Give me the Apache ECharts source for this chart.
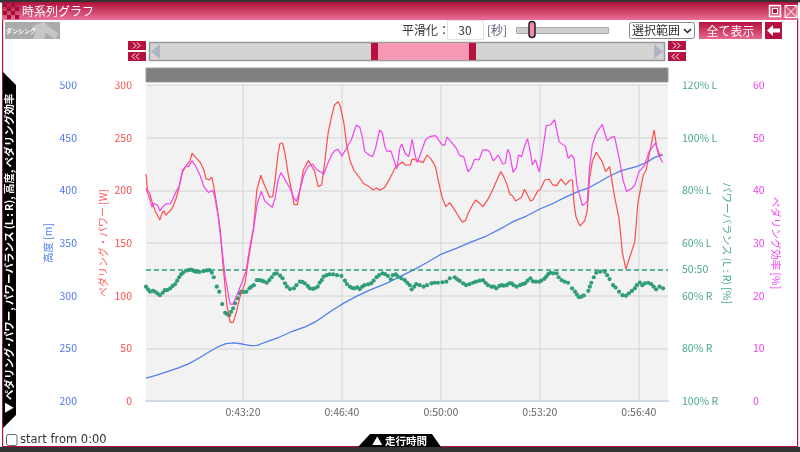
<!DOCTYPE html>
<html><head><meta charset="utf-8">
<style>html,body{margin:0;padding:0;background:#fff}#c{width:800px;height:452px}</style>
<script src="https://cdn.jsdelivr.net/npm/echarts@6/dist/echarts.min.js"></script>
</head><body><div id="c"></div>
<script>
const xTicks=[2600,2800,3000,3200,3400];
const balanceTicks=[0,20,40,50,60,80,100,120];
const powerTime=[2404,2407,2412,2416,2420,2423,2427,2432,2436,2440,2444,2453,2458,2465,2471,2478,2485,2493,2497,2500,2506,2514,2521,2525,2531,2537,2541,2547,2554,2560,2567,2574,2580,2587,2594,2604,2611,2621,2628,2636,2642,2649,2654,2660,2665,2671,2675,2680,2685,2691,2698,2703,2710,2715,2722,2732,2739,2745,2752,2759,2765,2772,2779,2785,2792,2797,2804,2810,2817,2824,2835,2843,2853,2863,2870,2876,2886,2897,2907,2917,2922,2929,2938,2942,2954,2964,2972,2979,2989,2996,3002,3010,3018,3026,3034,3043,3050,3055,3062,3070,3078,3085,3092,3098,3106,3112,3121,3127,3134,3139,3145,3151,3163,3169,3176,3181,3186,3195,3201,3210,3219,3226,3234,3243,3252,3261,3266,3269,3273,3281,3291,3296,3300,3306,3314,3318,3326,3333,3341,3351,3360,3367,3374,3382,3392,3398,3409,3415,3423,3431,3436,3442,3448];
const powerWatts=[215.5,200.3,196.5,189.3,187.7,179.8,176.6,171.9,177.6,180.7,176.6,180.7,183.9,192.4,203.5,217.8,223.1,228.2,235.2,235.2,230.4,226.3,219.3,211.4,209.8,212.4,203.5,186.1,162.4,127.6,92.7,74.7,74.7,84.8,99.1,111.7,133.9,162.4,200.3,214.3,206.7,198.8,193.4,194,209.8,235.2,244.7,244.7,235.2,216.2,200.3,186.7,186.4,200.3,219.3,228.2,223,217.8,203.5,205.1,225.7,254.2,270,281,284.2,279.5,263.6,241.5,227.3,219.3,212.4,206.7,204.2,200.3,202.2,200,202.6,211.4,220.9,225,226.9,223.8,224.1,229.8,228.2,226.3,233.6,230.4,222.5,206.7,194,184.5,188.3,182.9,176.6,170,171.2,178.2,184.5,190.8,187.7,184.5,189.3,194,201.9,208.3,217.8,213,205.1,196.5,194.6,189.9,193.4,201,194.6,189.9,190.9,198.8,201,209.8,210.5,205.1,204.5,210.8,205.1,209.8,209.8,187.7,175,166.2,171.2,181.4,209.8,227.3,236.1,236.1,227.3,217.8,222.5,194,173.4,140.2,125.3,137,151.3,187.7,214.6,219.3,238.3,257.3,241.5,233.6,233.6];
const effTime=[2404,2411,2416,2420,2427,2432,2439,2446,2453,2459,2465,2471,2478,2485,2490,2497,2503,2513,2521,2530,2539,2543,2550,2557,2564,2574,2580,2589,2597,2606,2614,2622,2629,2637,2644,2651,2659,2665,2671,2677,2685,2695,2703,2708,2715,2723,2732,2741,2749,2759,2763,2770,2779,2785,2792,2800,2809,2819,2829,2836,2841,2846,2855,2862,2868,2876,2882,2886,2891,2899,2906,2911,2917,2921,2928,2935,2942,2947,2952,2958,2969,2977,2989,3003,3008,3012,3021,3031,3038,3046,3055,3061,3068,3077,3085,3092,3098,3106,3116,3119,3125,3130,3135,3139,3146,3153,3157,3163,3170,3175,3180,3185,3191,3199,3205,3213,3221,3230,3239,3252,3257,3264,3269,3275,3286,3296,3300,3306,3314,3326,3336,3345,3351,3361,3368,3375,3385,3392,3400,3412,3421,3434,3439,3448];
const effPercent=[40.4,38.5,36.8,37.5,37.2,36.1,37,37.5,37.4,38.5,39.8,40.7,43.9,44.6,44.5,45.6,44.8,42.9,40.7,39.6,40,38.8,35,29.3,23.6,18.4,18.4,20.4,22.3,24.6,29.3,33.1,37.5,39.8,38,37.4,36.8,38.5,42,43.4,42,40.4,38.5,37.9,40.1,42.9,44.6,45,43.9,43.4,43,44.8,46.7,47.5,47.8,46.5,48,49.6,52.4,52,50.2,47.4,46.7,46.4,48,51.5,50.8,48.6,47.4,47.5,45.5,44.1,48,48.8,47,46.4,49.7,47,45.3,46.7,49.6,50.2,50.4,48.6,48.6,50.1,49.2,48,46.6,46.4,43.5,44.2,45.9,45.8,47.7,47.7,47.4,45.6,46.7,46.8,45,45.1,47.8,47,43.4,44.4,46.7,46.4,48.6,49.8,47.7,44.8,45.8,43.5,47,52.3,52.4,53.4,49.2,48.3,46.1,46.7,46.1,41,37.1,37.9,43.9,48.6,50.8,52.5,49.4,50.1,50.2,45.8,42,39.8,40.3,41,43.5,44.8,47.4,49,47,45.3];
const altTime=[2404,2424,2444,2471,2491,2512,2532,2549,2566,2582,2599,2616,2629,2646,2673,2700,2727,2747,2776,2803,2830,2856,2890,2917,2944,2971,3001,3031,3058,3092,3126,3146,3173,3200,3227,3254,3277,3301,3321,3341,3365,3395,3415,3432,3448];
const altMeters=[221.8,224.4,227.5,231.7,235.5,241.1,246.8,251.3,254.4,255.1,254.1,252.5,252.9,256,260.5,266.2,270.6,275.3,284.8,292.7,299.6,305.3,311.7,318,324.3,331.3,339.5,344.9,350.3,356.6,364.9,370.3,375.6,382.3,387.7,394,398.7,402.9,408.2,413.6,418.7,422.5,426.3,431.3,433.6];
const balTime=[2404,2408,2412,2418,2422,2427,2432,2438,2442,2447,2453,2458,2463,2467,2471,2475,2479,2485,2490,2494,2498,2502,2506,2512,2520,2527,2532,2537,2541,2547,2552,2558,2564,2568,2572,2576,2580,2584,2589,2593,2597,2602,2607,2613,2617,2622,2628,2633,2638,2642,2648,2653,2658,2663,2668,2675,2680,2685,2689,2695,2703,2708,2715,2720,2725,2731,2735,2741,2745,2751,2755,2759,2763,2769,2775,2782,2790,2799,2806,2810,2816,2821,2826,2831,2836,2841,2846,2853,2859,2864,2870,2875,2882,2887,2893,2899,2903,2909,2913,2920,2927,2932,2937,2941,2946,2950,2957,2965,2972,2981,2987,2994,3003,3011,3018,3028,3033,3038,3045,3051,3058,3065,3071,3078,3085,3090,3095,3102,3107,3112,3118,3123,3127,3133,3138,3143,3147,3153,3160,3165,3170,3175,3181,3186,3192,3199,3203,3209,3213,3217,3221,3227,3234,3238,3244,3250,3257,3265,3271,3275,3279,3284,3289,3298,3301,3304,3309,3314,3322,3331,3336,3341,3348,3353,3360,3367,3374,3380,3386,3392,3396,3402,3407,3412,3419,3425,3430,3435,3442,3449];
const balLeft=[43.4,42.4,41.5,41.8,41.5,40.9,40.2,41.1,42.1,42.1,42.8,43.7,44.4,45.7,47,48.1,48.7,49.5,49.7,49.9,49.7,49.2,49.1,49,49.3,49.6,49.7,48.7,47,43.4,41.5,36.8,33.5,33,32.6,33.9,35.2,37.1,39,40.9,41.5,41.4,41.5,42.8,43.4,44,45.9,45.9,45.7,45.4,44.9,45.9,47,48.2,48.5,47.6,46.6,44.7,43.4,42.5,42.8,44,45.3,45.2,44.7,43.7,42.8,42.6,42.8,43.4,44.9,45.9,47.2,47.8,48.1,48.1,47.8,47.5,45.7,44.4,43.4,42.9,42.8,43.2,42.5,43.4,44,44.3,44.7,45.7,47,47.8,48.5,48.2,47.5,46.2,47.8,48.1,47.2,46.6,45.9,44.9,44,42.4,43.4,44.4,44,43.4,44,44.7,44.9,44.9,45.1,45.3,46.6,47,46.2,45.6,44.7,44,44.4,44.9,45.3,45.7,45.9,44.9,44,43.4,43.4,42.8,43.7,44,43.8,44,44.7,44.7,44,43.4,44,44.4,44.7,45.7,46.6,45.4,45.3,45.3,45.7,46.4,47.2,48.2,48.7,48.5,48.5,47,45.9,45.3,44.9,42.8,41.5,40.4,39.4,39.6,40.1,41.8,43.4,44.9,47,48.7,49.1,49.1,47.8,46.3,44,43.1,41.5,40.2,40,40.9,41.8,42.8,44,45,44,44.7,44.9,44.4,43.4,42.4,43.4,42.8];

const zip=(a,b)=>a.map((t,i)=>[t,b[i]]);
const FONT='"Noto Sans CJK JP","Noto Sans",sans-serif';
const LATIN='"DejaVu Sans",sans-serif';
const clock=v=>{const h=Math.floor(v/3600),m=Math.floor(v%3600/60),s=v%60;return h+':'+String(m).padStart(2,'0')+':'+String(s).padStart(2,'0')};
const balFmt=v=>v===50?'50:50':v<50?(100-v)+'% R':v+'% L';
const CR='#b5123f';
const grad=(a,b)=>({type:'linear',x:0,y:0,x2:0,y2:1,colorStops:[{offset:0,color:a},{offset:1,color:b}]});
const rect=(x,y,w,h,fill,extra={})=>({type:'rect',shape:{x,y,width:w,height:h,r:extra.r||0},style:{fill,stroke:extra.stroke,lineWidth:extra.lw||1},z:extra.z||50,silent:true});
const txt=(x,y,t,size,fill,extra={})=>({type:'text',x,y,rotation:extra.rot||0,z:60,silent:true,style:{text:t,fill,font:(extra.w||'normal')+' '+size+'px '+(extra.f||FONT),align:extra.align||'left',verticalAlign:'middle'}});
const poly=(pts,fill,z=50)=>({type:'polygon',shape:{points:pts},style:{fill},z,silent:true});
const chev=(x,y,d)=>({type:'polyline',shape:{points:[[x,y-3],[x+3*d,y],[x,y+3]]},style:{stroke:'#fff',lineWidth:1,fill:null},z:55,silent:true});
const dbl=(cx,y,d)=>[chev(cx-3*d-1,y,d),chev(cx+1*d-1,y,d)];

const yBase={type:'value',splitLine:{show:false},axisLine:{show:false},axisTick:{show:false},nameLocation:'middle',nameMoveOverlap:false};
const chart=echarts.init(document.getElementById('c'),null,{renderer:'canvas'});
const checks=[];
for(let i=0;i<4;i++)for(let j=0;j<4;j++)if((i+j)%2==0)checks.push(rect(3+i*4,3+j*4,4,4,'#a00f35',{z:52}));
chart.setOption({
 animation:false,backgroundColor:'#fff',
 grid:{left:146,right:132,top:85,bottom:51,show:true,backgroundColor:'#f2f2f2',borderWidth:0},
 xAxis:{type:'value',min:2404,max:3459,
  axisLine:{show:true,lineStyle:{color:'#cfd8e3',width:2}},
  axisTick:{show:false,customValues:xTicks},
  axisLabel:{customValues:xTicks,formatter:clock,color:'#666',fontSize:10.5,fontFamily:FONT,margin:6},
  splitLine:{show:true,lineStyle:{color:'#dddddd',width:1.5}}},
 yAxis:[
  Object.assign({},yBase,{min:0,max:300,interval:50,position:'left',name:'ペダリング・パワー [W]',nameGap:38,nameRotate:90,nameTextStyle:{color:'#ff5a5a',fontSize:10,fontFamily:FONT},
   axisLabel:{color:'#ff4d4d',fontSize:10.5,fontFamily:FONT,margin:14},splitLine:{show:true,lineStyle:{color:'#dddddd',width:1.5}}}),
  Object.assign({},yBase,{min:200,max:500,interval:50,position:'left',offset:55,name:'高度 [m]',nameGap:38,nameRotate:90,nameTextStyle:{color:'#4f7ff0',fontSize:10.5,fontFamily:FONT},
   axisLabel:{color:'#4f78ee',fontSize:10.5,fontFamily:FONT,margin:14}}),
  Object.assign({},yBase,{min:0,max:120,position:'right',name:'パワーバランス (L : R) [%]',nameGap:54,nameRotate:-90,nameTextStyle:{color:'#4aa890',fontSize:10.5,fontFamily:FONT},
   axisTick:{show:false,customValues:balanceTicks},
   axisLabel:{customValues:balanceTicks,formatter:balFmt,color:'#4aa890',fontSize:10.5,fontFamily:FONT,margin:14}}),
  Object.assign({},yBase,{min:0,max:60,interval:10,position:'right',offset:71,name:'ペダリング効率 [%]',nameGap:32,nameRotate:-90,nameTextStyle:{color:'#ee44ee',fontSize:10.5,fontFamily:FONT},
   axisLabel:{color:'#f040f0',fontSize:10.5,fontFamily:FONT,margin:14}})
 ],
 series:[
  {name:'altitude',type:'line',yAxisIndex:1,data:zip(altTime,altMeters),showSymbol:false,lineStyle:{color:'#4f80ee',width:1.3},z:3},
  {name:'balance',type:'scatter',yAxisIndex:2,data:zip(balTime,balLeft),symbolSize:4.2,itemStyle:{color:'#2f9d7a',opacity:1},z:4,
   markLine:{silent:true,symbol:'none',label:{show:false},lineStyle:{color:'#2a9d78',type:[5,3],width:1.6},data:[{yAxis:50}]}},
  {name:'power',type:'line',yAxisIndex:0,data:zip(powerTime,powerWatts),showSymbol:false,lineStyle:{color:'#ff4d4d',width:1.2},z:5},
  {name:'efficiency',type:'line',yAxisIndex:3,data:zip(effTime,effPercent),showSymbol:false,lineStyle:{color:'#ee44ee',width:1.2},z:6}
 ],
 graphic:[
  rect(20,62,126,19.5,'#fff',{z:40}),rect(668,62,126,19.5,'#fff',{z:40}),
  rect(0,0,800,2.5,'#333'),
  rect(2,2,796,18,grad('#b0103a','#ea7096')),
  ...checks,
  rect(2,20,1.2,428,CR),rect(797,20,1.2,428,CR),rect(2,446,796,1.2,CR),rect(0,447,800,5,'#333'),
  txt(22,11,'時系列グラフ',12,'#fff'),
  rect(769.5,5.5,11,11,'rgba(255,255,255,0.2)',{stroke:'#fff',lw:1.5}),rect(772.5,8.5,5,5,'#b5123f',{stroke:'#fff',lw:1}),
  rect(785,5.5,12,12,'rgba(255,255,255,0.15)',{stroke:'#fff',lw:1}),
  {type:'line',shape:{x1:785,y1:5.5,x2:797,y2:17.5},style:{stroke:'#fff',lineWidth:1},z:55,silent:true},
  {type:'line',shape:{x1:797,y1:5.5,x2:785,y2:17.5},style:{stroke:'#fff',lineWidth:1},z:55,silent:true},
  rect(5,22,55,17,'#aaaaaa'),
  poly([[33,39],[36,31],[32,27],[38,24],[44,22],[47,25],[52,29],[58,33],[56,39],[50,36],[46,33],[44,39]],'#c6c6c6',51),
  txt(6,31,'ダンシング',6,'#fff',{w:'bold'}),
  txt(402,30,'平滑化：',12,'#333'),
  rect(447.5,20.5,36,19,'#fff',{stroke:'#e2e2e2'}),
  txt(465,30,'30',12,'#333',{align:'center'}),
  txt(487,30,'[秒]',12,'#5b5b77'),
  rect(516.5,27.5,92,6,'#cfcfcf',{stroke:'#aaa'}),
  rect(529,21.5,6,16,'#f48aa9',{stroke:'#222',lw:1.5,r:3}),
  rect(629.5,22.5,65,16,'#fff',{stroke:'#888',r:2}),
  txt(632,30.5,'選択範囲',12,'#333'),
  {type:'polyline',shape:{points:[[684,29],[687.5,32.5],[691,29]]},style:{stroke:'#222',lineWidth:1.5,fill:null},z:55,silent:true},
  rect(699,22,63,17,grad('#b5123f','#e8688c')),
  txt(730.5,31,'全て表示',12,'#fff',{align:'center'}),
  rect(765,22,17,17,CR),
  poly([[767,30.5],[773,25],[773,28.5],[780,28.5],[780,32.5],[773,32.5],[773,36]],'#fff',55),
  rect(149.5,42.5,515,18,'#d4d4d4',{stroke:'#999',lw:1.5}),
  poly([[151,51.5],[160,44],[160,59]],'#aeb4c2',52),
  poly([[663,51.5],[654,44],[654,59]],'#aeb4c2',52),
  rect(371,43,105,17,'#f799b4',{z:52}),rect(371,43,7,17,CR,{z:53}),rect(469,43,7,17,CR,{z:53}),
  rect(128,41,18,9,CR),rect(128,52,18,9,CR),rect(668,41,18,9,CR),rect(668,52,18,9,CR),
  ...dbl(137,45.5,1),...dbl(137,56.5,-1),...dbl(677,45.5,1),...dbl(677,56.5,-1),
  rect(146,68,522,14,'#808080',{stroke:'#999'}),
  poly([[3,72],[16,85],[16,415],[3,428]],'#000'),
  txt(9.5,413,'▼ ペダリング･パワー, パワーバランス (L : R), 高度, ペダリング効率',10.5,'#fff',{rot:Math.PI/2,w:'bold'}),
  poly([[358,447],[370,434],[432,434],[441,447]],'#000'),
  txt(399.5,441,'▲ 走行時間',10.5,'#fff',{align:'center',w:'bold'}),
  rect(6.5,434.5,10.5,11,'#fff',{stroke:'#666',r:2}),
  txt(20,440,'start from 0:00',11.5,'#333',{f:LATIN})
 ]
});
</script></body></html>
